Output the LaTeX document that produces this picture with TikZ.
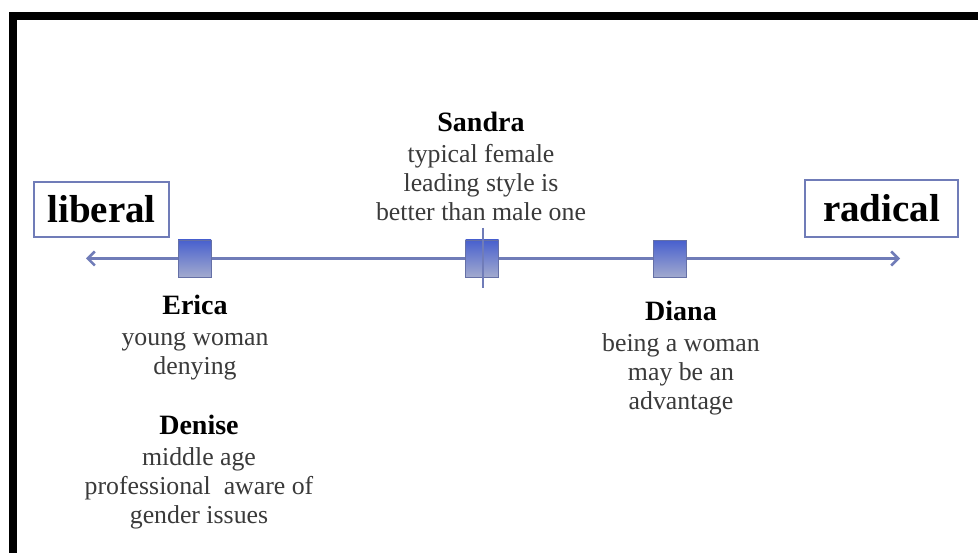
\documentclass[tikz,border=0pt]{standalone}
\usepackage{fontspec}
\setmainfont{Liberation Serif}
\usetikzlibrary{arrows.meta}
\definecolor{axiscol}{RGB}{112,124,184}
\definecolor{sqtop}{RGB}{72,96,206}
\definecolor{sqbot}{RGB}{162,170,206}
\definecolor{txtcol}{RGB}{58,58,58}
\tikzset{
  endbox/.style={draw=axiscol, line width=2pt, inner sep=0pt, font=\fontsize{39}{44}\selectfont\bfseries, text=black},
  marker/.style={draw=axiscol!90!black, line width=0.8pt, top color=sqtop, bottom color=sqbot, minimum width=33pt, minimum height=37pt, inner sep=0pt},
  blk/.style={align=center, inner sep=0pt, text=txtcol, font=\fontsize{25.8}{29}\selectfont},
  axisline/.style={draw=axiscol, line width=3pt}
}
\newcommand{\pname}[1]{{\fontsize{28}{29}\selectfont\bfseries\color{black}#1}}
\begin{document}
\begin{tikzpicture}[x=1pt,y=-1pt]
\useasboundingbox (0,0) rectangle (978,553);
\fill[white] (0,0) rectangle (978,553);
% frame
\draw[line width=8pt, line cap=rect] (12.5,553) -- (12.5,16) -- (978,16);
% end boxes
\node[endbox, minimum width=135pt, minimum height=55pt] (lib) at (101.5,209.5) {liberal};
\node[endbox, minimum width=153pt, minimum height=57pt] (rad) at (881.5,208.5) {radical};
% axis
\coordinate (L) at (86,258.5);
\coordinate (R) at (900,258.5);
\draw[axisline, {Straight Barb[length=7pt,width=14pt,line width=2.5pt]}-{Straight Barb[length=7pt,width=14pt,line width=2.5pt]}] (L) -- (R);
% markers
\node[marker] (erica) at (194.5,258.5) {};
\node[marker] (sandra) at (482,258.5) {};
\node[marker] (diana) at (669.5,259) {};
\coordinate (vt) at (483,228);
\coordinate (vb) at (483,288);
\draw[axisline, line width=2.5pt] (vt) -- (vb);
% labels
\node[blk, anchor=north] (tsandra) at (481,112) {\pname{Sandra}\\[2pt]typical female\\leading style is\\better than male one};
\node[blk, anchor=north] (terica) at (195,295) {\pname{Erica}\\[2pt]young woman\\denying};
\node[blk, anchor=north] (tdenise) at (199,415) {\pname{Denise}\\[2pt]middle age\\professional\ \ aware of\\gender issues};
\node[blk, anchor=north] (tdiana) at (681,301) {\pname{Diana}\\[2pt]being a woman\\may be an\\advantage};
\end{tikzpicture}
\end{document}
